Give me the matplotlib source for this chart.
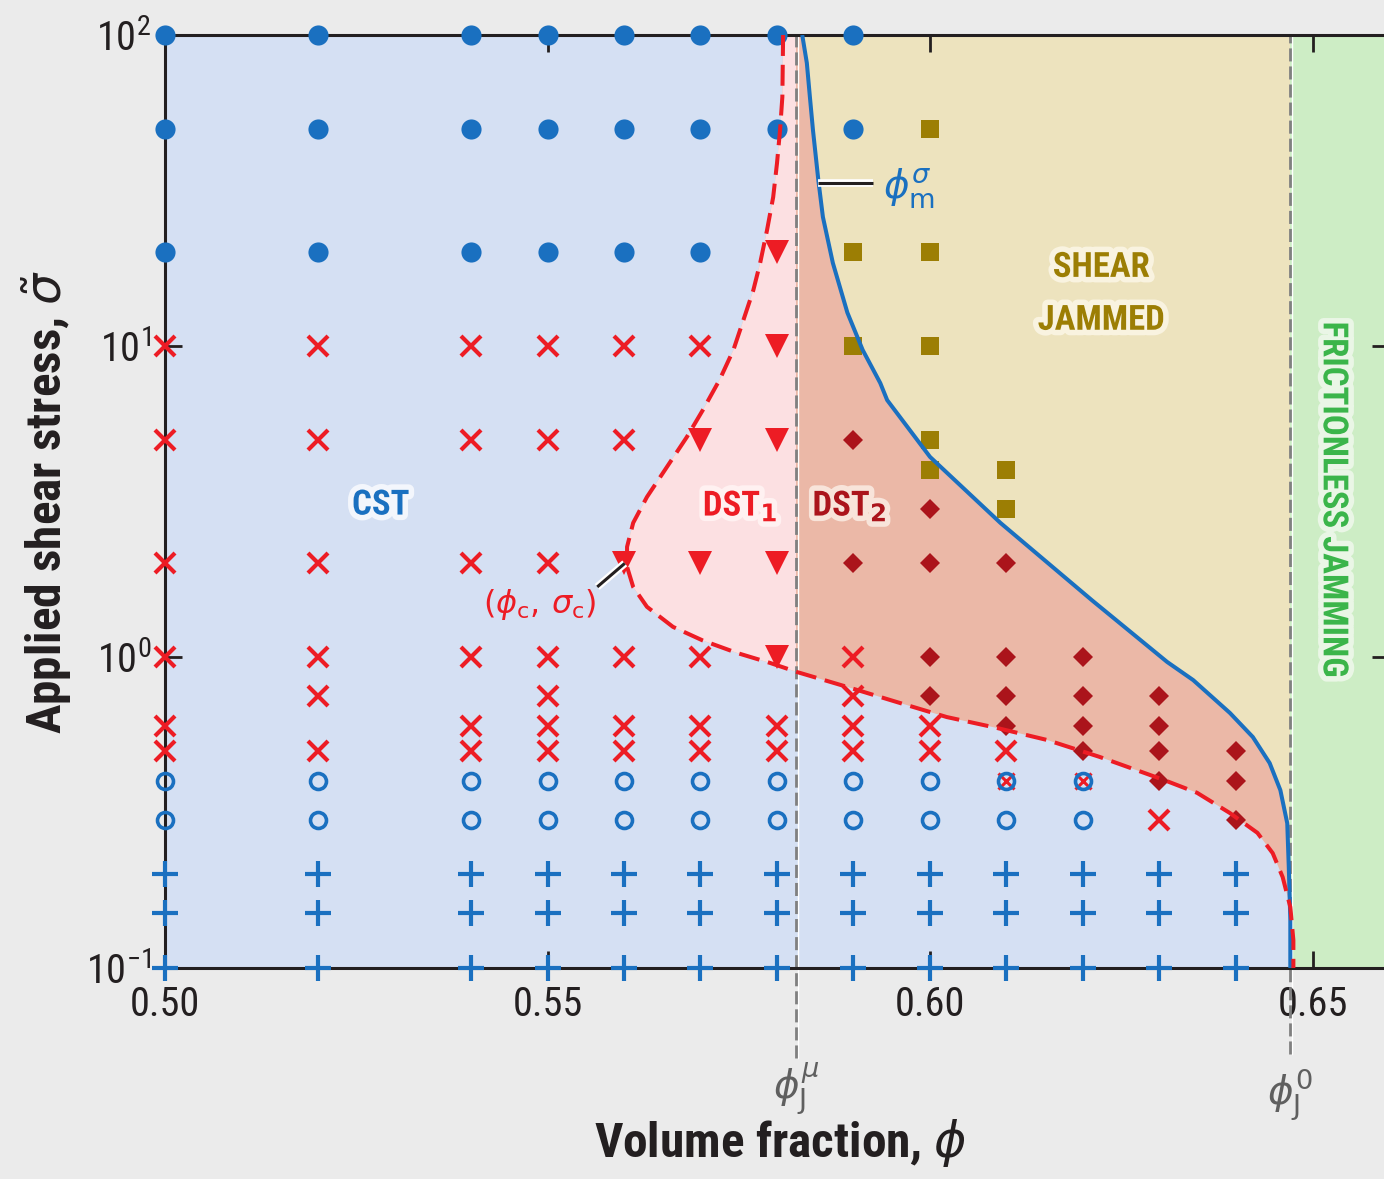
import numpy as np
import matplotlib
matplotlib.use('Agg')
import matplotlib.pyplot as plt
from matplotlib.patches import Rectangle, Polygon
import matplotlib.patheffects as pe
from matplotlib.ticker import FixedLocator, NullLocator
from matplotlib import font_manager as fm

# ---------------- data ----------------
PHI_MU = 0.5825   # phi_J^mu
PHI_0 = 0.6471    # phi_J^0

# filled circles
circ_phi = [0.50, 0.50, 0.50, 0.52, 0.52, 0.52, 0.54, 0.54, 0.54, 0.55, 0.55, 0.55,
            0.56, 0.56, 0.56, 0.57, 0.57, 0.57, 0.58, 0.58, 0.59, 0.59]
circ_sig = [100, 50, 20, 100, 50, 20, 100, 50, 20, 100, 50, 20,
            100, 50, 20, 100, 50, 20, 100, 50, 100, 50]

# red crosses
x_phi = [0.50] * 6 + [0.52] * 6 + [0.54] * 6 + [0.55] * 7 + [0.56] * 5 + [0.57] * 4 + \
        [0.58] * 2 + [0.59] * 4 + [0.60] * 2 + [0.61, 0.63]
x_sig = [10, 5, 2, 1, 0.6, 0.5,
         10, 5, 2, 1, 0.75, 0.5,
         10, 5, 2, 1, 0.6, 0.5,
         10, 5, 2, 1, 0.75, 0.6, 0.5,
         10, 5, 1, 0.6, 0.5,
         10, 1, 0.6, 0.5,
         0.6, 0.5,
         1, 0.75, 0.6, 0.5,
         0.6, 0.5,
         0.5, 0.3]

# small crosses hidden under open circles
xs_phi = [0.61, 0.62]
xs_sig = [0.4, 0.4]

# red triangles (DST1)
tri_phi = [0.56, 0.57, 0.57, 0.58, 0.58, 0.58, 0.58, 0.58]
tri_sig = [2, 5, 2, 20, 10, 5, 2, 1]

# dark red diamonds (DST2)
dia_phi = [0.59, 0.59, 0.60, 0.60, 0.60, 0.60, 0.61, 0.61, 0.61, 0.61,
           0.62, 0.62, 0.62, 0.62, 0.63, 0.63, 0.63, 0.63, 0.64, 0.64, 0.64]
dia_sig = [5, 2, 3, 2, 1, 0.75, 2, 1, 0.75, 0.6,
           1, 0.75, 0.6, 0.5, 0.75, 0.6, 0.5, 0.4, 0.5, 0.4, 0.3]

# olive squares (shear jammed)
sq_phi = [0.59, 0.59, 0.60, 0.60, 0.60, 0.60, 0.60, 0.61, 0.61]
sq_sig = [20, 10, 50, 20, 10, 5, 4, 4, 3]

# open circles
oc_cols = [0.50, 0.52, 0.54, 0.55, 0.56, 0.57, 0.58, 0.59, 0.60, 0.61, 0.62]
oc_rows = [0.4, 0.3]

# plus markers
pl_cols = [0.50, 0.52, 0.54, 0.55, 0.56, 0.57, 0.58, 0.59, 0.60, 0.61, 0.62, 0.63, 0.64]
pl_rows = [0.2, 0.15, 0.1]

# red dashed boundary (CST / DST onset), traced top -> nose -> bottom
red_phi = [0.5808, 0.5807, 0.5804, 0.5800, 0.5795, 0.5787, 0.5778, 0.5769, 0.5756, 0.5743,
           0.5725, 0.5703, 0.5682, 0.5656, 0.5630, 0.5612, 0.5604, 0.5604, 0.5612, 0.5630,
           0.5664, 0.5703, 0.5748, 0.5791, 0.5826, 0.5892, 0.5957, 0.6022, 0.6088, 0.6153,
           0.6222, 0.6305, 0.6349, 0.6392, 0.6428, 0.6448, 0.6461, 0.6471, 0.6475, 0.6475]
red_sig = [100, 63.2, 49.5, 38.7, 30.1, 23.6, 18.5, 15.1, 12.1, 9.71,
           7.79, 6.22, 5.09, 4.08, 3.27, 2.70, 2.26, 1.95, 1.68, 1.45,
           1.25, 1.13, 1.03, 0.957, 0.895, 0.801, 0.716, 0.641, 0.591, 0.541,
           0.477, 0.403, 0.366, 0.315, 0.272, 0.234, 0.196, 0.157, 0.123, 0.1]

# blue solid curve phi_m^sigma, top -> bottom
blue_phi = [0.5833, 0.5839, 0.5843, 0.5847, 0.5854, 0.5860, 0.5873, 0.5892, 0.5912, 0.5935,
            0.5944, 0.6000, 0.6092, 0.6212, 0.6310, 0.6344, 0.6392, 0.6422, 0.6444, 0.6458,
            0.6467, 0.6469, 0.6471, 0.6471]
blue_sig = [100, 81.3, 63.2, 49.5, 34.2, 26.0, 18.5, 12.8, 9.71, 7.60,
            6.70, 4.40, 2.70, 1.52, 0.964, 0.843, 0.661, 0.553, 0.456, 0.373,
            0.292, 0.211, 0.143, 0.1]

x_ticks = [0.50, 0.55, 0.60, 0.65]
x_ticklabels = ['0.50', '0.55', '0.60', '0.65']
y_ticks = [0.1, 1, 10, 100]

# ---------------- style ----------------
names = {f.name for f in fm.fontManager.ttflist}
FONT = next((n for n in ['Roboto Condensed', 'Liberation Sans Narrow', 'Open Sans Condensed',
                         'Open Sans'] if n in names), 'DejaVu Sans')
plt.rcParams['font.family'] = [FONT, 'DejaVu Sans']
plt.rcParams['mathtext.fontset'] = 'dejavusans'

BG = '#EBEBEB'
C_CST = '#D5E0F3'
C_DST1 = '#FCE0E2'
C_DST2 = '#EBB8A7'
C_SJ = '#EDE3BE'
C_GREEN = '#CDEDC5'
BLUE = '#1A70C0'
RED = '#ED1C24'
DRED = '#AB141B'
OLIVE = '#9C7E04'
GTEXT = '#3BB54A'
INK = '#231F20'

fig = plt.figure(figsize=(13.84, 11.79), dpi=100, facecolor=BG)
ax = fig.add_axes([165 / 1384, 1 - 968 / 1179, (1389 - 165) / 1384, 933 / 1179])
ax.set_yscale('log')
ax.set_xlim(0.5, 0.66)
ax.set_ylim(0.1, 100)
ax.set_facecolor(C_CST)

# ---------------- regions ----------------
red_pts = np.column_stack([red_phi, red_sig])
blue_pts = np.column_stack([blue_phi, blue_sig])
dst_poly = np.vstack([red_pts, blue_pts[::-1]])

ax.add_patch(Polygon(dst_poly, closed=True, facecolor=C_DST2, edgecolor='none', zorder=1))
pink = Polygon(dst_poly, closed=True, facecolor=C_DST1, edgecolor='none', zorder=1.1)
ax.add_patch(pink)
pink.set_clip_path(Rectangle((0.5, 0.1), PHI_MU - 0.5, 100 - 0.1, transform=ax.transData))

sj_poly = np.vstack([blue_pts, [[PHI_0, 0.1], [PHI_0, 100]]])
ax.add_patch(Polygon(sj_poly, closed=True, facecolor=C_SJ, edgecolor='none', zorder=1))
ax.axvspan(PHI_0, 0.66, facecolor=C_GREEN, edgecolor='none', zorder=1)

# vertical dashed jamming lines (extending below axes)
xt = ax.get_xaxis_transform()
for px, ybot in [(PHI_MU, -0.0965), (PHI_0, -0.092)]:
    ax.plot([px + 0.00018, px + 0.00018], [ybot, 1], transform=xt, color='white', lw=1.0,
            clip_on=False, zorder=1.5)
    ax.plot([px, px], [ybot, 1], transform=xt, color='#808080', lw=2.0,
            dashes=(4.7, 1.8), clip_on=False, zorder=1.6)

# ---------------- markers ----------------
mk = dict(linestyle='none', clip_on=False, zorder=3)
ax.plot([c for c in pl_cols for _ in pl_rows], [r for _ in pl_cols for r in pl_rows],
        marker='+', ms=19, mew=3.0, color=BLUE, **mk)
ax.plot([c for c in oc_cols for _ in oc_rows], [r for _ in oc_cols for r in oc_rows],
        marker='o', ms=11.5, mew=2.6, mfc='none', mec=BLUE, **mk)
ax.plot(xs_phi, xs_sig, marker='x', ms=11, mew=2.2, color=RED, linestyle='none',
        clip_on=False, zorder=2.9)
ax.plot(x_phi, x_sig, marker='x', ms=14.5, mew=3.0, color=RED, **mk)
ax.plot(circ_phi, circ_sig, marker='o', ms=14.5, mew=0, color=BLUE, **mk)
ax.plot(tri_phi, tri_sig, marker='v', ms=17, mew=0, color=RED, **mk)
ax.plot(dia_phi, dia_sig, marker='D', ms=10.5, mew=0, color=DRED, **mk)
ax.plot(sq_phi, sq_sig, marker='s', ms=13.5, mew=0, color=OLIVE, **mk)

# ---------------- curves ----------------
ax.plot(blue_phi, blue_sig, color=BLUE, lw=2.9, zorder=4, solid_capstyle='butt',
        solid_joinstyle='round')
ax.plot(red_phi, red_sig, color=RED, lw=2.9, dashes=(5.2, 2.2), zorder=4.1)

# ---------------- annotations ----------------
lead_fx = [pe.Stroke(linewidth=5.5, foreground='white'), pe.Normal()]
ax.plot([0.5854, 0.5925], [33.4, 33.4], color=INK, lw=2.2, zorder=5,
        path_effects=lead_fx, solid_capstyle='butt')
ax.text(0.5939, 32.0, r'$\phi^{\sigma}_{\mathrm{m}}$', color=BLUE, fontsize=28,
        ha='left', va='center', zorder=6)
ax.plot([0.5565, 0.5601], [1.68, 2.0], color=INK, lw=2.2, zorder=5,
        path_effects=lead_fx, solid_capstyle='butt')
ax.text(0.5490, 1.47, r'$(\phi_{\mathrm{c}},\,\sigma_{\mathrm{c}})$', color=RED, fontsize=23,
        ha='center', va='center', zorder=6)


def label(x, y, s, color, stroke, size=25, **kw):
    ax.text(x, y, s, color=color, fontsize=size, fontweight='bold', ha='center', va='center',
            zorder=6, path_effects=[pe.withStroke(linewidth=8, foreground=stroke)], **kw)


label(0.5282, 3.08, 'CST', BLUE, '#F3F6FC')
label(0.5752, 3.05, r'DST$_{\mathbf{1}}$', RED, '#FFF1F1')
label(0.5895, 3.05, r'DST$_{\mathbf{2}}$', DRED, '#F8E4DA')
label(0.6224, 17.9, 'SHEAR', OLIVE, '#F9F3E0')
label(0.6224, 12.1, 'JAMMED', OLIVE, '#F9F3E0')
label(0.6527, 3.2, 'FRICTIONLESS JAMMING', GTEXT, '#EAF6E6', rotation=-90)

ax.text(PHI_MU, -0.131, r'$\phi^{\mu}_{\mathrm{J}}$', transform=xt, ha='center', va='center',
        fontsize=28, color='#5F5F5F')
ax.text(PHI_0, -0.136, r'$\phi^{0}_{\mathrm{J}}$', transform=xt, ha='center', va='center',
        fontsize=28, color='#5F5F5F')

# ---------------- axes styling ----------------
ax.xaxis.set_major_locator(FixedLocator(x_ticks))
ax.set_xticklabels(x_ticklabels)
ax.yaxis.set_major_locator(FixedLocator(y_ticks))
ax.yaxis.set_minor_locator(NullLocator())
ax.xaxis.set_minor_locator(NullLocator())
ax.tick_params(which='major', direction='in', length=12, width=2, color=INK,
               top=True, right=True, labelsize=29, labelcolor=INK)
ax.tick_params(axis='x', pad=12)
ax.tick_params(axis='y', pad=10)
for s in ax.spines.values():
    s.set_linewidth(2.2)
    s.set_color(INK)
    s.set_zorder(2.5)

fig.text(780 / 1384, 1 - 1143 / 1179, r'Volume fraction, $\phi$', ha='center', va='center',
         fontsize=35.5, fontweight='bold', color=INK)
fig.text(47 / 1384, 1 - 502 / 1179, r'Applied shear stress, $\tilde{\sigma}$', ha='center',
         va='center', rotation=90, fontsize=35.5, fontweight='bold', color=INK)

fig.savefig('out.png', dpi=100, facecolor=BG)
